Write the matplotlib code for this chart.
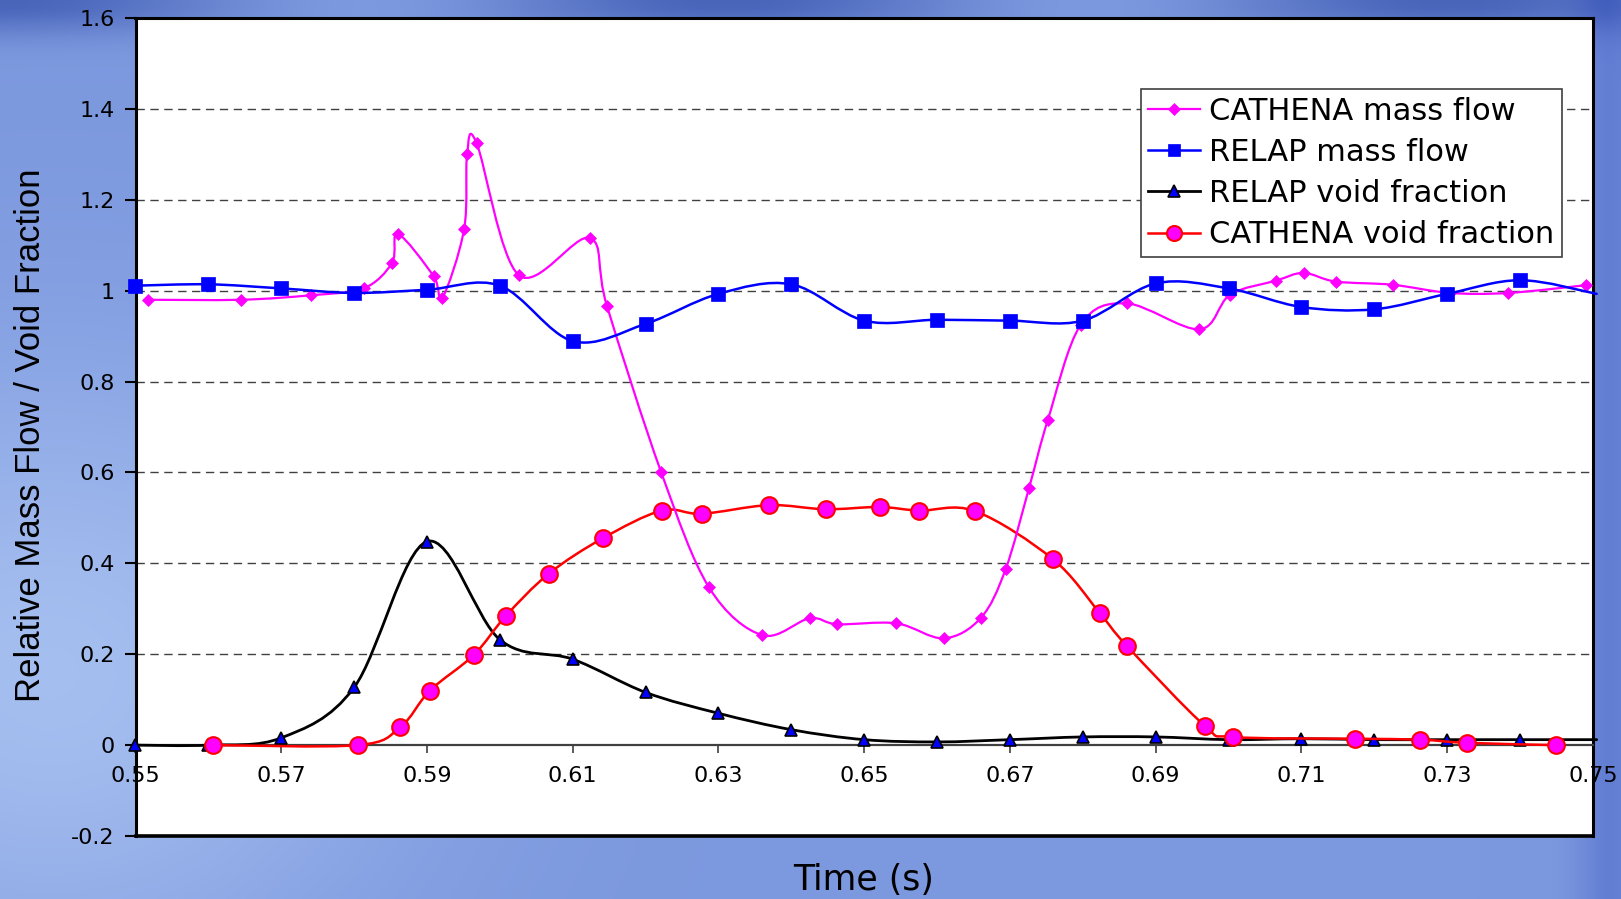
import numpy as np
import matplotlib
matplotlib.use("Agg")
import matplotlib.pyplot as plt
from matplotlib.path import Path
from matplotlib.patches import PathPatch
from matplotlib.lines import Line2D

plt.rcParams['font.family'] = ['DejaVu Sans']

# ---------------- data ----------------
cathena_mf_t = [0.5517, 0.5645, 0.5741, 0.5813, 0.5852, 0.5860, 0.5909, 0.5921,
                0.5951, 0.5955, 0.5968, 0.6026, 0.6123, 0.6147, 0.6221, 0.6287,
                0.6360, 0.6425, 0.6463, 0.6544, 0.6609, 0.6660, 0.6694, 0.6726,
                0.6752, 0.6797, 0.6860, 0.6960, 0.7002, 0.7065, 0.7103, 0.7147,
                0.7225, 0.7304, 0.7384, 0.7490]
cathena_mf = [0.980, 0.980, 0.990, 1.005, 1.061, 1.125, 1.032, 0.984,
              1.136, 1.300, 1.325, 1.034, 1.116, 0.966, 0.602, 0.347,
              0.242, 0.279, 0.266, 0.268, 0.235, 0.280, 0.387, 0.565,
              0.716, 0.925, 0.972, 0.915, 0.991, 1.022, 1.039, 1.020,
              1.013, 0.995, 0.995, 1.012]

relap_t = [0.55, 0.56, 0.57, 0.58, 0.59, 0.60, 0.61, 0.62, 0.63, 0.64, 0.65,
           0.66, 0.67, 0.68, 0.69, 0.70, 0.71, 0.72, 0.73, 0.74, 0.7505]
relap_mf = [1.011, 1.014, 1.005, 0.995, 1.002, 1.011, 0.889, 0.927, 0.993, 1.014,
            0.934, 0.936, 0.934, 0.934, 1.016, 1.005, 0.964, 0.959, 0.993, 1.023, 0.993]
relap_void = [0.000, 0.000, 0.016, 0.127, 0.448, 0.232, 0.189, 0.116, 0.070, 0.034,
              0.012, 0.007, 0.012, 0.018, 0.018, 0.012, 0.014, 0.012, 0.012, 0.012, 0.012]

cathena_void_t = [0.5606, 0.5805, 0.5863, 0.5904, 0.5964, 0.6008, 0.6067, 0.6141,
                  0.6222, 0.6277, 0.6369, 0.6447, 0.6521, 0.6575, 0.6652, 0.6759,
                  0.6823, 0.6860, 0.6967, 0.7006, 0.7174, 0.7263, 0.7327, 0.7449]
cathena_void = [0.000, 0.000, 0.039, 0.120, 0.198, 0.284, 0.377, 0.455,
                0.516, 0.509, 0.528, 0.519, 0.524, 0.516, 0.515, 0.409,
                0.291, 0.219, 0.043, 0.018, 0.014, 0.012, 0.005, 0.000]

series_names = ["CATHENA mass flow", "RELAP mass flow",
                "RELAP void fraction", "CATHENA void fraction"]
y_ticks = [-0.2, 0.0, 0.2, 0.4, 0.6, 0.8, 1.0, 1.2, 1.4, 1.6]
y_tick_labels = ["-0.2", "0", "0.2", "0.4", "0.6", "0.8", "1", "1.2", "1.4", "1.6"]
x_ticks = [0.55, 0.57, 0.59, 0.61, 0.63, 0.65, 0.67, 0.69, 0.71, 0.73, 0.75]
x_tick_labels = ["0.55", "0.57", "0.59", "0.61", "0.63", "0.65", "0.67",
                 "0.69", "0.71", "0.73", "0.75"]

X_MIN, X_MAX = 0.55, 0.75


def smooth_path(x, y):
    """Excel-style smoothed line: cubic Bezier through the data points."""
    pts = np.column_stack([x, y]).astype(float)
    n = len(pts)
    verts = [pts[0]]
    codes = [Path.MOVETO]
    for i in range(n - 1):
        p0 = pts[i - 1] if i > 0 else pts[i]
        p1 = pts[i]
        p2 = pts[i + 1]
        p3 = pts[i + 2] if i + 2 < n else pts[i + 1]
        c1 = p1 + (p2 - p0) / 6.0
        c2 = p2 - (p3 - p1) / 6.0
        verts += [c1, c2, p2]
        codes += [Path.CURVE4] * 3
    return Path(verts, codes)


W, H = 1621, 899
fig = plt.figure(figsize=(W / 100, H / 100), dpi=100)

# ---------- decorative blue background ----------
bg = fig.add_axes([0, 0, 1, 1], zorder=-10)
gy, gx = np.mgrid[0:1:180j, 0:1:320j]
base = np.array([124, 152, 222]) / 255.0
img = np.ones((180, 320, 3)) * base
light = np.exp(-(((gx - 0.03) / 0.22) ** 2 + ((gy - 0.75) / 0.35) ** 2))
img += light[..., None] * np.array([0.16, 0.15, 0.07])
dark_top = np.exp(-(((gy - 0.0) / 0.035) ** 2)) * (0.5 + 0.5 * np.cos(gx * 14))
img -= dark_top[..., None] * np.array([0.20, 0.20, 0.14])
dark_right = np.exp(-(((gx - 0.995) / 0.02) ** 2))
img -= dark_right[..., None] * np.array([0.10, 0.10, 0.04])
img = np.clip(img, 0, 1)
bg.imshow(img, extent=[0, 1, 0, 1], aspect='auto', origin='upper',
          interpolation='bilinear')
bg.set_axis_off()

# ---------- main axes ----------
ax = fig.add_axes([135.5 / W, 1 - 836 / H, (1593 - 135.5) / W, (836 - 18) / H])
ax.set_facecolor('white')
ax.set_xlim(X_MIN, X_MAX)
ax.set_ylim(-0.2, 1.6)

for yv in y_ticks:
    if -0.2 < yv < 1.6 and yv != 0:
        ax.axhline(yv, color='#404040', lw=1.0, dashes=(6, 4), zorder=1)

# frame
for s in ['top', 'right', 'left']:
    ax.spines[s].set_color('black')
    ax.spines[s].set_linewidth(2.2)
ax.spines['bottom'].set_position(('data', 0))
ax.spines['bottom'].set_color('#404040')
ax.spines['bottom'].set_linewidth(1.6)
ax.plot([0, 1], [0, 0], transform=ax.transAxes, color='black', lw=2.6,
        clip_on=False, zorder=5)

ax.set_yticks(y_ticks)
ax.set_yticklabels(y_tick_labels)
ax.set_xticks(x_ticks)
ax.set_xticklabels(x_tick_labels)
ax.tick_params(axis='y', direction='out', length=8, width=1.5, pad=7,
               labelsize=16, colors='black')
ax.tick_params(axis='x', direction='out', length=6, width=1.2, pad=9,
               labelsize=16, color='#404040', labelcolor='black')

# series styles
styles = [
    dict(color='#ff00ff', lw=1.6, marker='D', ms=6.5, mfc='#ff00ff', mec='#ff00ff', mew=0.5),
    dict(color='#0000ff', lw=1.8, marker='s', ms=9.5, mfc='#0000ff', mec='#0000ff', mew=0.5),
    dict(color='black', lw=2.0, marker='^', ms=9, mfc='#0000ff', mec='black', mew=1.2),
    dict(color='#ff0000', lw=1.8, marker='o', ms=12, mfc='#ff00ff', mec='#ff0000', mew=1.5),
]
data = [(cathena_mf_t, cathena_mf), (relap_t, relap_mf),
        (relap_t, relap_void), (cathena_void_t, cathena_void)]
draw_order = [2, 3, 0, 1]
for k in draw_order:
    t, v = data[k]
    t = np.asarray(t)
    v = np.asarray(v)
    st = styles[k]
    z = 3 + draw_order.index(k) * 0.1
    patch = PathPatch(smooth_path(t, v), fill=False, edgecolor=st['color'],
                      lw=st['lw'], zorder=z, capstyle='round',
                      joinstyle='round', clip_on=False)
    ax.add_patch(patch)
    inside = t <= X_MAX + 1e-9
    ax.plot(t[inside], v[inside], linestyle='none', marker=st['marker'], ms=st['ms'],
            mfc=st['mfc'], mec=st['mec'], mew=st['mew'], zorder=z + 0.05,
            clip_on=False)

handles = [Line2D([], [], color=st['color'], lw=st['lw'], marker=st['marker'],
                  ms=st['ms'] * 0.9, mfc=st['mfc'], mec=st['mec'], mew=st['mew'])
           for st in styles]
leg = ax.legend(handles, series_names, loc='upper right',
                bbox_to_anchor=(0.9785, 0.9132), borderaxespad=0,
                fontsize=22, frameon=True, fancybox=False, framealpha=1,
                edgecolor='#404040', handlelength=1.7, handletextpad=0.28,
                labelspacing=0.40, borderpad=0.25)
leg.get_frame().set_linewidth(1.2)
leg.set_zorder(10)

fig.text(31 / W, 1 - 435 / H, "Relative Mass Flow / Void Fraction",
         rotation=90, fontsize=25, ha='center', va='center',
         family=['Liberation Sans', 'DejaVu Sans'])
fig.text(864 / W, 1 - 880 / H, "Time (s)", fontsize=25, ha='center', va='center')

fig.savefig("out.png", dpi=100)
